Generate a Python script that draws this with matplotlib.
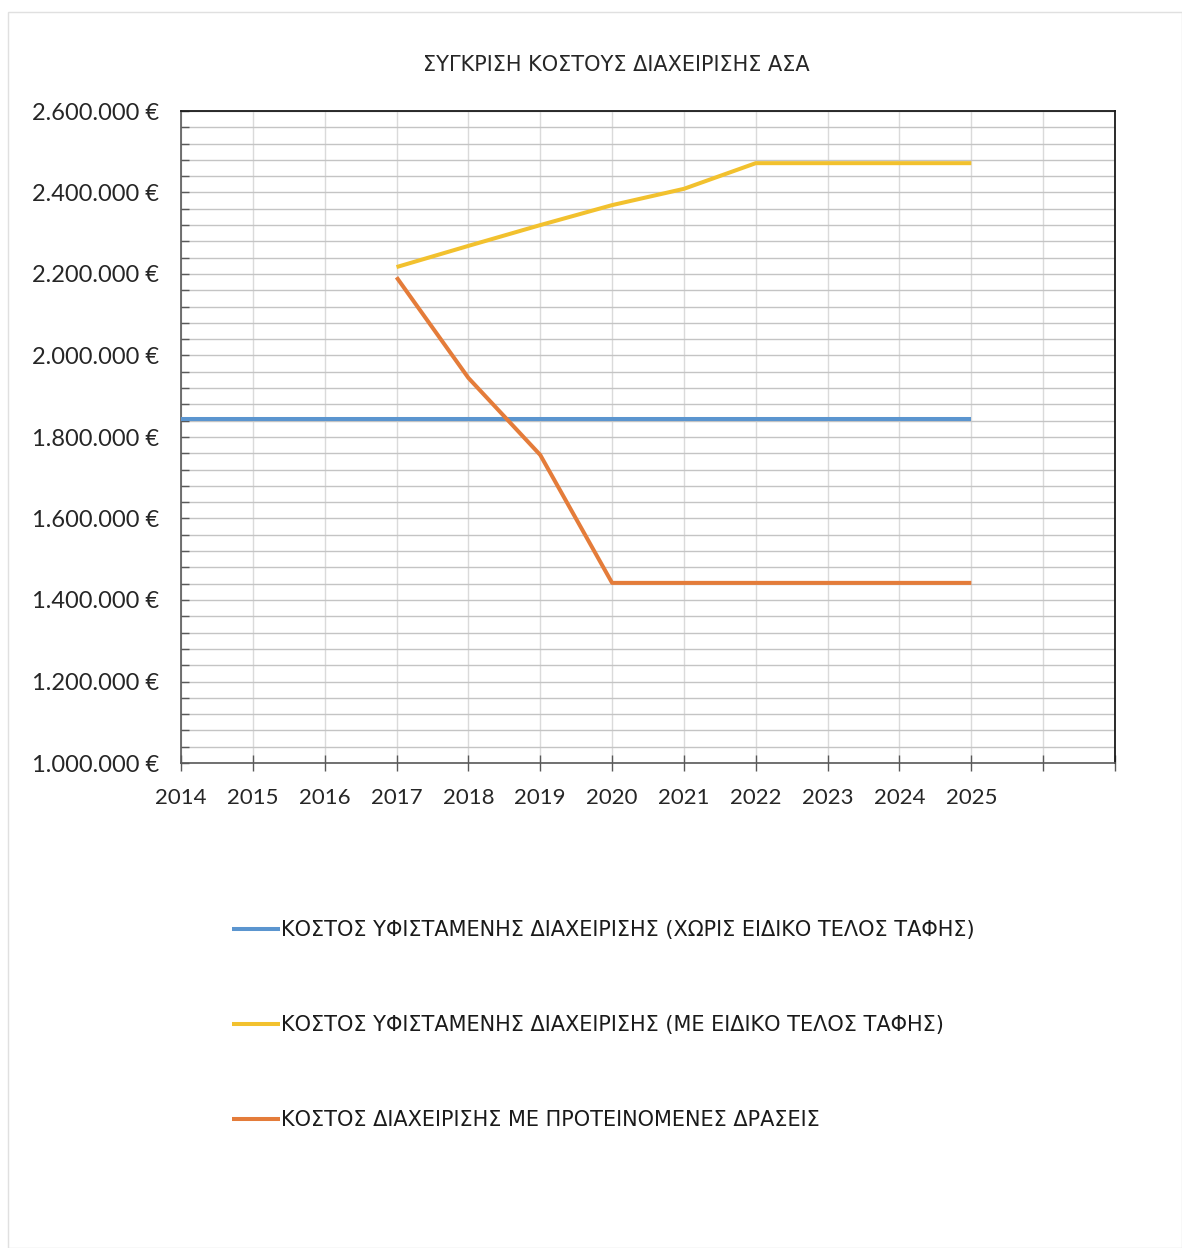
import numpy as np
import matplotlib
matplotlib.use("Agg")
import matplotlib.pyplot as plt
from matplotlib import font_manager
from matplotlib.ticker import MultipleLocator, FuncFormatter

# δεδομένα
years = ["2014", "2015", "2016", "2017", "2018", "2019", "2020",
         "2021", "2022", "2023", "2024", "2025"]
n_slots = 14  # ο άξονας έχει δύο κενές κατηγορίες στο τέλος

cost_without_fee = [1845000, 1845000, 1845000, 1845000, 1845000, 1845000,
                    1845000, 1845000, 1845000, 1845000, 1845000, 1845000]
cost_with_fee = [np.nan, np.nan, np.nan, 2217000, 2269000, 2320000,
                 2369000, 2409000, 2472000, 2472000, 2472000, 2472000]
cost_proposed = [np.nan, np.nan, np.nan, 2192000, 1945000, 1756000,
                 1442000, 1442000, 1442000, 1442000, 1442000, 1442000]

labels = ["ΚΟΣΤΟΣ ΥΦΙΣΤΑΜΕΝΗΣ ΔΙΑΧΕΙΡΙΣΗΣ (ΧΩΡΙΣ ΕΙΔΙΚΟ ΤΕΛΟΣ ΤΑΦΗΣ)",
          "ΚΟΣΤΟΣ ΥΦΙΣΤΑΜΕΝΗΣ ΔΙΑΧΕΙΡΙΣΗΣ (ΜΕ ΕΙΔΙΚΟ ΤΕΛΟΣ ΤΑΦΗΣ)",
          "ΚΟΣΤΟΣ ΔΙΑΧΕΙΡΙΣΗΣ ΜΕ ΠΡΟΤΕΙΝΟΜΕΝΕΣ ΔΡΑΣΕΙΣ"]
colors = ["#5b95cf", "#f2c12e", "#e47c3a"]
title = "ΣΥΓΚΡΙΣΗ ΚΟΣΤΟΥΣ ΔΙΑΧΕΙΡΙΣΗΣ ΑΣΑ"

# γραμματοσειρές (στενή αν υπάρχει)
installed = {f.name for f in font_manager.fontManager.ttflist}
narrow = "Liberation Sans Narrow" if "Liberation Sans Narrow" in installed else "DejaVu Sans"
tick_font = "Lato" if "Lato" in installed else "DejaVu Sans"

fig = plt.figure(figsize=(11.82, 12.48), dpi=100)
ax = fig.add_axes([181 / 1182, 1 - 763 / 1248, (1115 - 181) / 1182, (763 - 111) / 1248])

x = np.arange(len(years))
series = [cost_without_fee, cost_with_fee, cost_proposed]
for vals, c, lab in zip(series, colors, labels):
    ax.plot(x, vals, color=c, lw=2.9, label=lab, solid_capstyle="butt", zorder=3)

ax.set_xlim(0, n_slots - 1)
ax.set_ylim(1000000, 2600000)

ax.set_xticks(np.arange(n_slots))
ax.set_xticklabels(years + [""] * (n_slots - len(years)), fontsize=16, family=tick_font, color="#262626")
ax.yaxis.set_major_locator(MultipleLocator(200000))
ax.yaxis.set_minor_locator(MultipleLocator(40000))
ax.yaxis.set_major_formatter(FuncFormatter(lambda v, p: f"{int(v):,} €".replace(",", ".")))
for t in ax.get_yticklabels():
    t.set_fontsize(17)
    t.set_family(tick_font)
    t.set_color("#262626")

ax.grid(axis="y", which="both", color="#c4c4c4", lw=1.0, zorder=0)
ax.grid(axis="x", which="major", color="#dadada", lw=1.0, zorder=0)

ax.tick_params(axis="x", direction="inout", length=12, width=1, color="#595959", pad=12)
ax.tick_params(axis="y", which="both", direction="in", length=6, width=1, color="#595959", pad=16)

for s in ["left", "bottom"]:
    ax.spines[s].set_color("#595959")
    ax.spines[s].set_linewidth(1.2)
for s in ["top", "right"]:
    ax.spines[s].set_color("#1a1a1a")
    ax.spines[s].set_linewidth(1.3)

fig.text(616 / 1182, 1 - 65 / 1248, title, ha="center", va="center",
         fontsize=15, family=[narrow, "DejaVu Sans"], color="#262626")

handles, labs = ax.get_legend_handles_labels()
fig.legend(handles, labs, loc="upper left", bbox_to_anchor=(222 / 1182, 1 - 910 / 1248),
           frameon=False, prop={"family": [narrow, "DejaVu Sans"], "size": 15},
           handlelength=2.3, handletextpad=0.05, labelspacing=3.6, borderpad=0,
           labelcolor="#1a1a1a")

# λεπτό περίγραμμα περιοχής γραφήματος
fig.patches.append(plt.Rectangle((8 / 1182, 0), 1 - 8 / 1182, 1 - 12 / 1248,
                                 transform=fig.transFigure, fill=False,
                                 edgecolor="#e0e0e0", lw=1))

fig.savefig("out.png", dpi=100)
